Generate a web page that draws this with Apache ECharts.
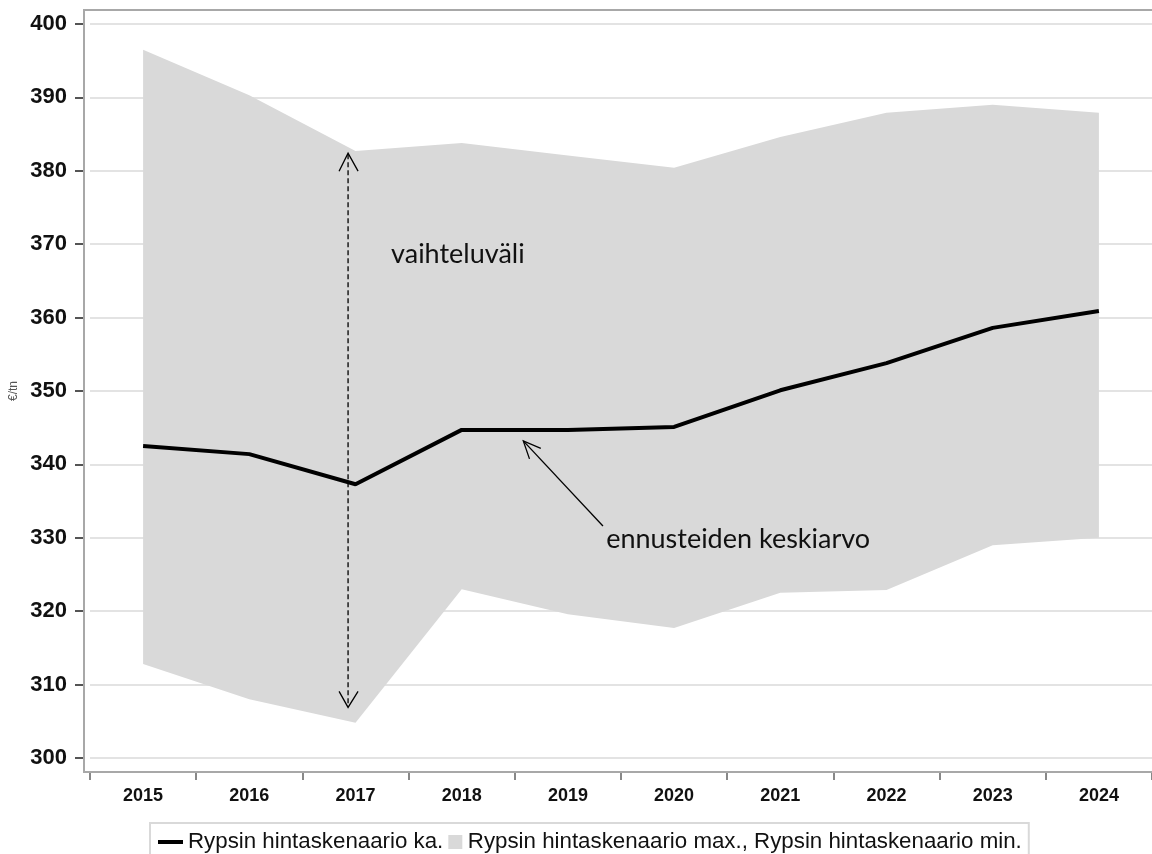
<!DOCTYPE html>
<html>
<head>
<meta charset="utf-8">
<script src="https://cdn.jsdelivr.net/npm/echarts@6/dist/echarts.min.js"></script>
<style>html,body{margin:0;padding:0;background:#fff}#c{width:1152px;height:854px}</style>
</head>
<body>
<div id="c"></div>
<script>
const years = ['2015','2016','2017','2018','2019','2020','2021','2022','2023','2024'];
const meanVals = [342.5, 341.4, 337.3, 344.7, 344.7, 345.1, 350.1, 353.8, 358.6, 360.9];
const maxVals  = [396.5, 390.3, 382.7, 383.8, 382.1, 380.4, 384.6, 387.9, 389.0, 387.9];
const minVals  = [312.8, 308.0, 304.8, 323.0, 319.6, 317.7, 322.5, 322.9, 329.0, 330.0];
const yTicks = [300, 310, 320, 330, 340, 350, 360, 370, 380, 390, 400];
const meanName = 'Rypsin hintaskenaario ka.';
const bandName = 'Rypsin hintaskenaario max., Rypsin hintaskenaario min.';
const rangeArrow = {i: 1.93, from: 382.4, to: 306.9};
const meanArrow = {tipI: 3.58, tipV: 343.2, tailI: 4.33, tailV: 331.6};
const rangeLabel = {text: 'vaihteluväli', i: 2.335, v: 368.6};
const meanLabel = {text: 'ennusteiden keskiarvo', i: 4.36, v: 329.8};

(function () {
const bandDiff = maxVals.map((v, k) => +(v - minVals[k]).toFixed(2));
const chart = echarts.init(document.getElementById('c'));
const FONT = '"Liberation Sans", Arial, sans-serif';
const option = {
  animation: false,
  backgroundColor: '#fff',
  grid: {left: 90, right: 0, top: 24, bottom: 96, containLabel: false, outerBoundsMode: 'none'},
  legend: {
    left: 150, top: 823,
    data: [
      {name: meanName, icon: 'path://M0,0L25,0L25,4L0,4Z', itemStyle: {color: '#000'}},
      {name: bandName, icon: 'path://M0,0L10,0L10,10L0,10Z', itemStyle: {color: '#d9d9d9'},
       textStyle: {padding: [0, 0, 0, -5]}}
    ],
    symbolKeepAspect: true,
    itemWidth: 25, itemHeight: 14, itemGap: 5,
    textStyle: {fontFamily: FONT, fontSize: 22.3, color: '#111'},
    borderColor: '#d9d9d9', borderWidth: 2, padding: [8, 7, 8, 8],
    backgroundColor: '#fff'
  },
  xAxis: {
    type: 'category', data: years, boundaryGap: true, offset: 14,
    axisLine: {show: false},
    axisTick: {show: true, length: 8, lineStyle: {color: '#888', width: 2}},
    axisLabel: {fontFamily: FONT, fontWeight: 'bold', fontSize: 18, color: '#111', margin: 15},
    splitLine: {show: false}
  },
  yAxis: {
    type: 'value', min: yTicks[0], max: yTicks[yTicks.length - 1], interval: 10, offset: 6,
    name: '€/tn', nameLocation: 'middle', nameGap: 63, nameRotate: 90,
    nameTextStyle: {fontFamily: FONT, fontSize: 12, color: '#555'},
    axisLine: {show: false},
    axisTick: {show: true, length: 9, lineStyle: {color: '#555', width: 2}},
    axisLabel: {fontFamily: FONT, fontWeight: 'bold', fontSize: 22, color: '#111', margin: 17},
    splitLine: {show: true, lineStyle: {color: '#e3e3e3', width: 2}}
  },
  series: [
    {name: 'minBase', type: 'line', stack: 'band', data: minVals, symbol: 'none',
     lineStyle: {opacity: 0}, silent: true, z: 1},
    {name: bandName, type: 'line', stack: 'band', data: bandDiff, symbol: 'none',
     lineStyle: {opacity: 0}, areaStyle: {color: '#d9d9d9', opacity: 1}, itemStyle: {color: '#d9d9d9'}, z: 1},
    {name: meanName, type: 'line', data: meanVals, symbol: 'none',
     lineStyle: {color: '#000', width: 4}, itemStyle: {color: '#000'}, z: 3}
  ]
};
chart.setOption(option);

function px(i, v) {
  const i0 = Math.floor(i), i1 = Math.min(i0 + 1, years.length - 1);
  const p0 = chart.convertToPixel({gridIndex: 0}, [i0, v]);
  const p1 = chart.convertToPixel({gridIndex: 0}, [i1, v]);
  const step = (i1 === i0) ? 0 : (p1[0] - p0[0]);
  return [p0[0] + step * (i - i0), p0[1]];
}
const half = (px(1, 300)[0] - px(0, 300)[0]) / 2;
const boxTop = px(0, 400)[1] - 14, boxBot = px(0, 300)[1] + 14;
const boxLeft = px(0, 300)[0] - half - 6;
const a1t = px(rangeArrow.i, rangeArrow.from), a1b = px(rangeArrow.i, rangeArrow.to);
const a2t = px(meanArrow.tipI, meanArrow.tipV), a2e = px(meanArrow.tailI, meanArrow.tailV);
const ang = Math.atan2(a2e[1] - a2t[1], a2e[0] - a2t[0]);
const hl = 19, ha = 0.42;
const w1 = [a2t[0] + hl * Math.cos(ang - ha), a2t[1] + hl * Math.sin(ang - ha)];
const w2 = [a2t[0] + hl * Math.cos(ang + ha), a2t[1] + hl * Math.sin(ang + ha)];
const l1 = px(rangeLabel.i, rangeLabel.v), l2 = px(meanLabel.i, meanLabel.v);
const AFONT = 'Lato, "Open Sans", sans-serif';
chart.setOption({
  graphic: [
    {type: 'rect', z: 10, silent: true, shape: {x: boxLeft, y: boxTop, width: 1200, height: boxBot - boxTop},
     style: {fill: null, stroke: '#a8a8a8', lineWidth: 2}},
    {type: 'line', z: 10, shape: {x1: a1t[0], y1: a1t[1] + 1, x2: a1b[0], y2: a1b[1] - 1},
     style: {stroke: '#000', lineWidth: 1.3, lineDash: [5, 3]}},
    {type: 'polyline', z: 10, shape: {points: [[a1t[0] - 9, a1t[1] + 18], [a1t[0], a1t[1]], [a1t[0] + 10, a1t[1] + 18]]},
     style: {stroke: '#000', lineWidth: 1.3, fill: null}},
    {type: 'polyline', z: 10, shape: {points: [[a1b[0] - 9, a1b[1] - 16], [a1b[0], a1b[1]], [a1b[0] + 10, a1b[1] - 16]]},
     style: {stroke: '#000', lineWidth: 1.3, fill: null}},
    {type: 'line', z: 10, shape: {x1: a2t[0], y1: a2t[1], x2: a2e[0], y2: a2e[1]},
     style: {stroke: '#000', lineWidth: 1.3}},
    {type: 'polyline', z: 10, shape: {points: [w1, a2t, w2]},
     style: {stroke: '#000', lineWidth: 1.3, fill: null}},
    {type: 'text', z: 10, x: l1[0], y: l1[1],
     style: {text: rangeLabel.text, fontFamily: AFONT, fontSize: 27, fill: '#111', verticalAlign: 'middle'}},
    {type: 'text', z: 10, x: l2[0], y: l2[1],
     style: {text: meanLabel.text, fontFamily: AFONT, fontSize: 27, fill: '#111', verticalAlign: 'middle'}}
  ]
});
})();
</script>
</body>
</html>
